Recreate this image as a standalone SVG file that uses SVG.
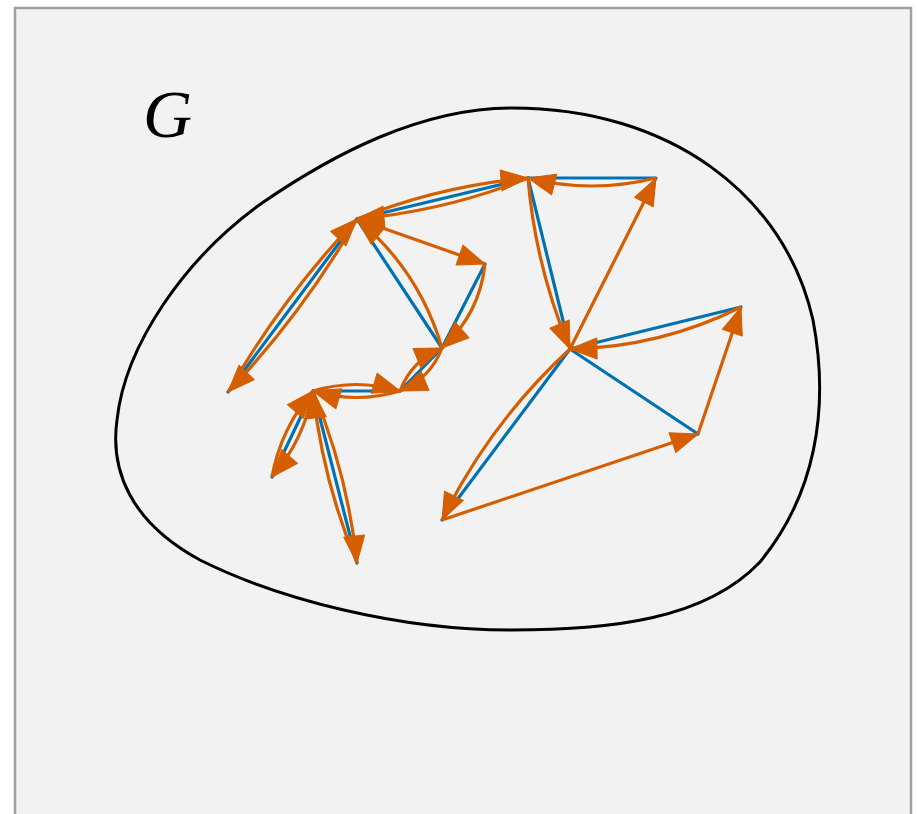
<svg xmlns="http://www.w3.org/2000/svg" width="918" height="814" viewBox="0 0 918 814">
  <style>
    .blue { stroke: #0072b2; stroke-width: 3.2; fill: none; stroke-linecap: round; }
    .or { stroke: #d55e00; stroke-width: 3.2; fill: none; marker-end: url(#ah); }
    .blob { stroke: #000; stroke-width: 3; fill: none; }
    .lbl { font-family: "Liberation Serif", "DejaVu Serif", serif; font-style: italic; font-size: 68px; fill: #000; }
  </style>
  <defs>
    <marker id="ah" markerUnits="userSpaceOnUse" viewBox="0 0 28 22" markerWidth="28" markerHeight="22" refX="27.5" refY="11" orient="auto" overflow="visible">
      <path d="M0.5,0.5 L27.5,11 L0.5,21.5 Z" fill="#d55e00" stroke="#d55e00" stroke-width="1" stroke-linejoin="round"/>
    </marker>
  </defs>

  <g id="frame">
    <rect x="15" y="8" width="896" height="830" fill="#f2f2f2" stroke="#a0a0a0" stroke-width="2.5"/>
  </g>

  <g id="region-G">
    <path class="blob" d="M512,108 C670,108 785,195 813,320 C830,410 815,495 760,562 C705,620 610,630 510,630 C400,630 280,600 200,560 C130,522 110,470 117,420 C125,345 185,258 262,203 C332,155 420,108 512,108 Z"/>
    <text class="lbl" x="143" y="137">G</text>
  </g>

  <g id="tree-edges">
    <line class="blue" x1="528" y1="178" x2="656" y2="178"/>
    <line class="blue" x1="528" y1="178" x2="357" y2="219"/>
    <line class="blue" x1="528" y1="178" x2="570" y2="349"/>
    <line class="blue" x1="357" y1="219" x2="228" y2="392"/>
    <line class="blue" x1="357" y1="219" x2="442" y2="348"/>
    <line class="blue" x1="485" y1="264" x2="442" y2="348"/>
    <line class="blue" x1="442" y1="348" x2="400" y2="391"/>
    <line class="blue" x1="400" y1="391" x2="313" y2="391"/>
    <line class="blue" x1="313" y1="391" x2="272" y2="477"/>
    <line class="blue" x1="313" y1="391" x2="357" y2="563"/>
    <line class="blue" x1="570" y1="349" x2="741" y2="307"/>
    <line class="blue" x1="570" y1="349" x2="698" y2="434"/>
    <line class="blue" x1="570" y1="349" x2="442" y2="520"/>
  </g>

  <g id="tour-arrows">
    <path class="or" d="M228,392 Q282.1,297.7 357,219"/>
    <path class="or" d="M357,219 Q302.9,313.3 228,392"/>
    <path class="or" d="M357,219 Q439.5,185.9 528,178"/>
    <path class="or" d="M528,178 Q445.5,211.1 357,219"/>
    <path class="or" d="M442,348 Q430.3,378.6 400,391"/>
    <path class="or" d="M400,391 Q411.7,360.4 442,348"/>
    <path class="or" d="M313,391 Q356.5,378 400,391"/>
    <path class="or" d="M400,391 Q356.5,404 313,391"/>
    <path class="or" d="M313,391 Q304.2,439.6 272,477"/>
    <path class="or" d="M272,477 Q280.8,428.4 313,391"/>
    <path class="or" d="M313,391 Q347.6,473.8 357,563"/>
    <path class="or" d="M357,563 Q322.4,480.2 313,391"/>
    <path class="or" d="M656,178 Q592,194 528,178"/>
    <path class="or" d="M528,178 Q535.4,266.8 570,349"/>
    <path class="or" d="M485,264 Q479.5,314.2 442,348"/>
    <path class="or" d="M442,348 Q419,270 357,219"/>
    <path class="or" d="M741,307 Q660.3,347.4 570,349"/>
    <path class="or" d="M570,349 Q490,422.5 442,520"/>
    <path class="or" d="M357,219 L485,264"/>
    <path class="or" d="M570,349 L656,178"/>
    <path class="or" d="M442,520 L698,434"/>
    <path class="or" d="M698,434 L741,307"/>
  </g>
</svg>
